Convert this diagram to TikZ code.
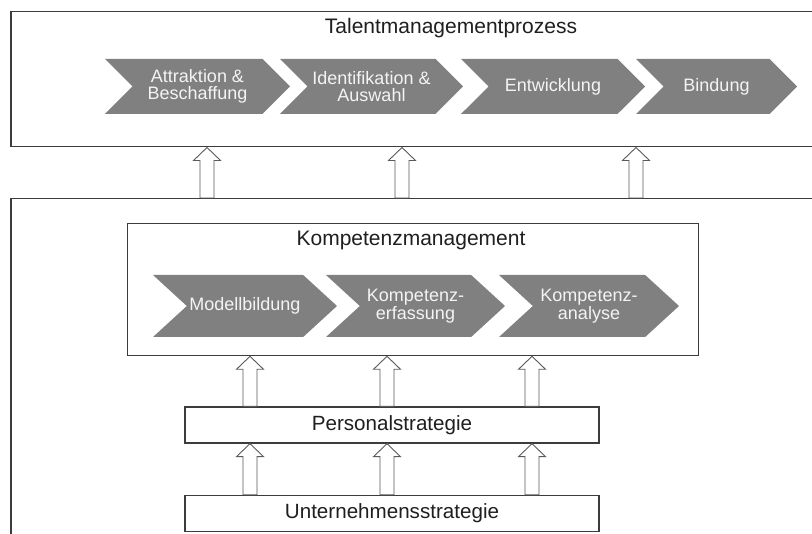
\documentclass[tikz,border=0pt]{standalone}
\usepackage{fontspec}
\setmainfont{Liberation Sans}
\usetikzlibrary{shapes.symbols,calc}

\definecolor{frame}{HTML}{3C3C3C}
\definecolor{chev}{HTML}{808080}
\definecolor{chevtext}{HTML}{F4F4F4}
\definecolor{arrowline}{HTML}{5A5A5A}

\tikzset{
  bigbox/.style={draw=frame, line width=1.5pt, fill=white, rectangle,
    inner sep=0pt, anchor=north west},
  stratbox/.style={draw=frame, line width=1.3pt, fill=white, rectangle,
    inner sep=0pt, minimum width=414pt, minimum height=36pt,
    font=\fontsize{20.6}{23}\selectfont, text=black!88},
  title/.style={font=\fontsize{21}{24}\selectfont, text=black!88},
  chevron/.style={signal, signal from=west, signal to=east,
    signal pointer angle=90, fill=chev, draw=none, inner sep=0pt,
    text=chevtext, align=center,
    font=\fontsize{18}{17.5}\selectfont},
  topchev/.style={chevron, minimum height=55pt},
  lowchev/.style={chevron, minimum height=62pt, signal pointer angle=85},
  blockarrow/.style={draw=arrowline, line width=0.9pt, fill=white,
    line join=miter}
}

% upward block arrow at x=#1 from the top of node #2 to the bottom of node #3
\newcommand\blockup[3]{%
  \draw[blockarrow] let \p1=(#2.north), \p2=(#3.south) in
    (#1pt-7pt,\y1) -- (#1pt-7pt,\y2-13pt) -- (#1pt-13.5pt,\y2-13pt)
    -- (#1pt,\y2) -- (#1pt+13.5pt,\y2-13pt) -- (#1pt+7pt,\y2-13pt)
    -- (#1pt+7pt,\y1) -- cycle;%
}

\begin{document}
\begin{tikzpicture}[x=1pt,y=-1pt]
  \useasboundingbox (0,0) rectangle (812,534);
  \clip (0,0) rectangle (812,534);
  \fill[white] (0,0) rectangle (812,534);

  % outer frames, running past the right and bottom edges
  \node[bigbox, minimum width=830pt, minimum height=135pt] (talent) at (10,11) {};
  \node[bigbox, minimum width=830pt, minimum height=360pt] (basis) at (10,198) {};

  % talent management process
  \node[title] (ttitle) at (451,28) {Talentmanagementprozess};
  \node[topchev, minimum width=185pt] (t1) at (197.5,86.5) {Attraktion \&\\Beschaffung};
  \node[topchev, minimum width=183pt] (t2) at (371.5,86.5) {Identifikation \&\\Auswahl};
  \node[topchev, minimum width=184pt] (t3) at (553,86.5) {Entwicklung};
  \node[topchev, minimum width=161pt] (t4) at (716.5,86.5) {Bindung};

  % competence management
  \node[draw=frame, line width=1.3pt, fill=white, rectangle, inner sep=0pt,
        anchor=north west, minimum width=571pt, minimum height=132pt]
        (komp) at (127,223) {};
  \node[title] (ktitle) at (411,240.5) {Kompetenzmanagement};
  \node[lowchev, minimum width=184pt] (k1) at (245,306) {Modellbildung};
  \node[lowchev, minimum width=179pt] (k2) at (415.5,306) {Kompetenz-\\erfassung};
  \node[lowchev, minimum width=180pt] (k3) at (589,306) {Kompetenz-\\analyse};

  % strategies
  \node[stratbox] (personal) at (392,425) {Personalstrategie};
  \node[stratbox] (unternehmen) at (392,513.5) {Unternehmensstrategie};

  % block arrows between the layers
  \blockup{207}{basis}{talent}
  \blockup{402}{basis}{talent}
  \blockup{636}{basis}{talent}
  \blockup{250}{personal}{komp}
  \blockup{387}{personal}{komp}
  \blockup{532}{personal}{komp}
  \blockup{250}{unternehmen}{personal}
  \blockup{387}{unternehmen}{personal}
  \blockup{532}{unternehmen}{personal}
\end{tikzpicture}
\end{document}
